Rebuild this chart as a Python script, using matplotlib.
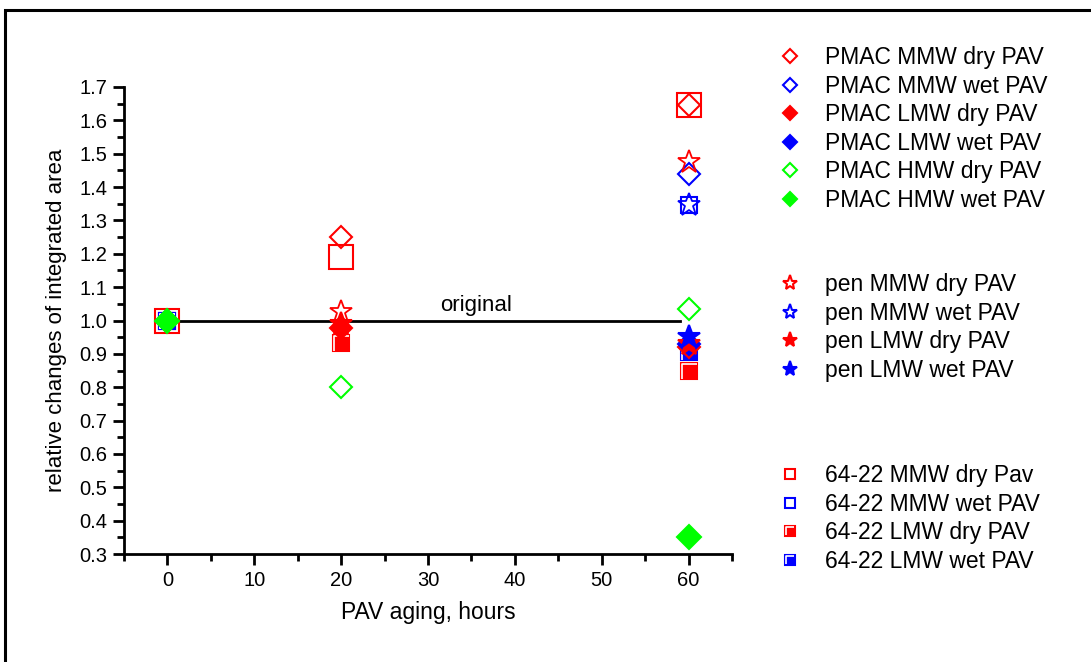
import numpy as np
import matplotlib
matplotlib.use("Agg")
import matplotlib.pyplot as plt
from matplotlib.path import Path
from matplotlib.lines import Line2D
from matplotlib.patches import Rectangle
from matplotlib.legend_handler import HandlerTuple

plt.rcParams['font.family'] = ['Liberation Sans', 'DejaVu Sans']

hours = [0, 20, 60]
nan = np.nan

# PMAC series
pmac_mmw_dry = [1.0, 1.25, 1.645]
pmac_mmw_wet = [1.0, nan, 1.44]
pmac_lmw_dry = [1.0, 0.978, 0.92]
pmac_lmw_wet = [1.0, nan, 0.93]
pmac_hmw_dry = [1.0, 0.80, 1.035]
pmac_hmw_wet = [1.0, nan, 0.35]
# pen series
pen_mmw_dry = [nan, 1.025, 1.475]
pen_mmw_wet = [nan, nan, 1.345]
pen_lmw_dry = [nan, 0.99, 0.93]
pen_lmw_wet = [nan, nan, 0.95]
# 64-22 series
b64_mmw_dry = [1.0, 1.19, 1.645]
b64_mmw_wet = [1.0, nan, 1.345]
b64_lmw_dry = [1.0, 0.933, 0.85]
b64_lmw_wet = [1.0, nan, 0.905]

original_level = 1.0

RED = '#ff0000'
BLUE = '#0000ff'
GREEN = '#00ff00'

# white L mark used for the half-filled squares
corner = Path([(-0.3, -0.3), (-0.3, 0.3), (0.3, 0.3)],
              [Path.MOVETO, Path.LINETO, Path.LINETO])

fig = plt.figure(figsize=(10.91, 6.62), dpi=100)
fig.patches.append(Rectangle((5 / 1091, -0.1), 1.2, 1 - 10 / 662 + 0.1,
                             transform=fig.transFigure, fill=False,
                             edgecolor='black', linewidth=2.2))
ax = fig.add_axes([124 / 1091, 1 - 554 / 662, (732 - 124) / 1091, (554 - 87) / 662])

ax.plot([0, 59], [original_level, original_level], color='black', lw=2, zorder=1)
ax.text(35.5, 1.012, 'original', fontsize=16, ha='center', va='bottom')


def mk(y, marker, color, filled, ms, z, mew=1.5):
    ax.plot(hours, y, linestyle='none', marker=marker, ms=ms,
            markerfacecolor=color if filled else 'none',
            markeredgecolor=color, markeredgewidth=mew, zorder=z)


def half_square(y, color, ms, z):
    mk(y, 's', color, True, ms, z)
    ax.plot(hours, y, linestyle='none', marker=corner, ms=ms * 0.9,
            markerfacecolor='none', markeredgecolor='white',
            markeredgewidth=1.2, zorder=z + 0.1)


# 64-22
mk(b64_mmw_dry, 's', RED, False, 17, 2)
mk(b64_mmw_wet, 's', BLUE, False, 11, 2.1)
half_square(b64_lmw_dry, RED, 12, 2.2)
half_square(b64_lmw_wet, BLUE, 12, 2.3)
# PMAC
mk(pmac_mmw_dry, 'D', RED, False, 11.5, 3)
mk(pmac_mmw_wet, 'D', BLUE, False, 11.5, 3)
mk(pmac_lmw_dry, 'D', RED, True, 11.5, 3.1)
mk(pmac_lmw_wet, 'D', BLUE, True, 11.5, 3.2)
mk(pmac_hmw_dry, 'D', GREEN, False, 11.5, 3)
# pen
mk(pen_mmw_dry, '*', RED, False, 17, 4, mew=1.3)
mk(pen_mmw_wet, '*', BLUE, False, 17, 4, mew=1.3)
mk(pen_lmw_dry, '*', RED, True, 17, 4.1)
mk(pen_lmw_wet, '*', BLUE, True, 17, 4.2)
mk(pmac_hmw_wet, 'D', GREEN, True, 12.5, 5)

ax.set_xlim(-5, 65)
ax.set_ylim(0.3, 1.7)
ax.set_xticks(np.arange(0, 61, 10))
ax.set_xticks(np.arange(-5, 66, 10), minor=True)
ax.set_yticks(np.arange(0.3, 1.71, 0.1))
ax.set_yticks(np.arange(0.35, 1.7, 0.1), minor=True)
ax.set_yticklabels(['%.1f' % v for v in np.arange(0.3, 1.71, 0.1)])
for s in ['top', 'right']:
    ax.spines[s].set_visible(False)
for s in ['left', 'bottom']:
    ax.spines[s].set_linewidth(2)
ax.tick_params(which='major', length=8, width=2, labelsize=14.5, pad=4)
ax.tick_params(which='minor', length=5, width=2)
ax.set_xlabel('PAV aging, hours', fontsize=16.5, labelpad=8)
ax.set_ylabel('relative changes of integrated area', fontsize=16, labelpad=9)


def handle(marker, color, filled, ms=7.5):
    return Line2D([], [], linestyle='none', marker=marker, ms=ms,
                  markerfacecolor=color if filled else 'none',
                  markeredgecolor=color, markeredgewidth=1.5)


def half_handle(color):
    mark = Line2D([], [], linestyle='none', marker=corner, ms=6.3,
                  markerfacecolor='none', markeredgecolor='white',
                  markeredgewidth=1.2)
    return (handle('s', color, True, 7), mark)


groups = [
    ([handle('D', RED, False), handle('D', BLUE, False), handle('D', RED, True),
      handle('D', BLUE, True), handle('D', GREEN, False), handle('D', GREEN, True)],
     ['PMAC MMW dry PAV', 'PMAC MMW wet PAV', 'PMAC LMW dry PAV',
      'PMAC LMW wet PAV', 'PMAC HMW dry PAV', 'PMAC HMW wet PAV'], 55),
    ([handle('*', RED, False, 11), handle('*', BLUE, False, 11),
      handle('*', RED, True, 11), handle('*', BLUE, True, 11)],
     ['pen MMW dry PAV', 'pen MMW wet PAV', 'pen LMW dry PAV', 'pen LMW wet PAV'], 282),
    ([handle('s', RED, False, 7), handle('s', BLUE, False, 7),
      half_handle(RED), half_handle(BLUE)],
     ['64-22 MMW dry Pav', '64-22 MMW wet PAV', '64-22 LMW dry PAV', '64-22 LMW wet PAV'], 473),
]
for hs, labels, ytop in groups:
    leg = fig.legend(hs, labels, loc='upper left', frameon=False, fontsize=16.5,
                     bbox_to_anchor=(776 / 1091, 1 - (ytop - 9) / 662),
                     borderpad=0, borderaxespad=0, handlelength=1.2,
                     handletextpad=0.95, labelspacing=0.245,
                     handler_map={tuple: HandlerTuple(ndivide=1, pad=0)})

fig.savefig('out.png', dpi=100)
